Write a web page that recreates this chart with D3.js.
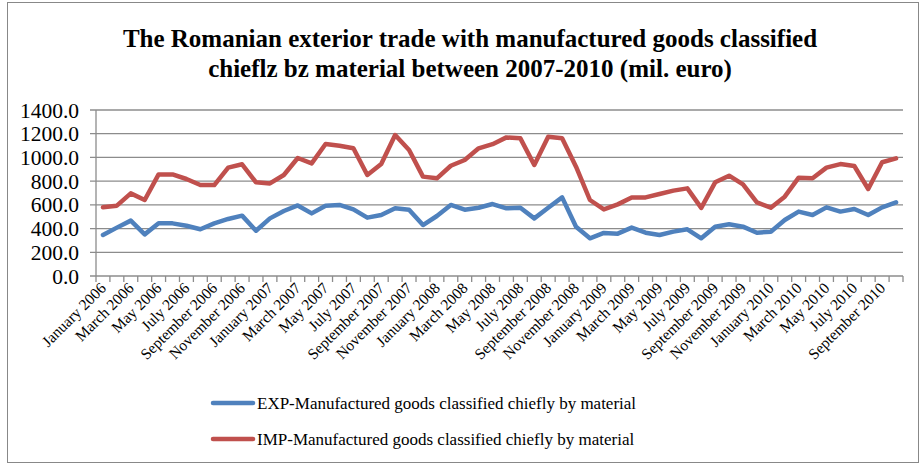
<!DOCTYPE html>
<html><head><meta charset="utf-8">
<script src="https://cdn.jsdelivr.net/npm/d3@7"></script>
<style>body{margin:0;background:#fff}svg{display:block}</style>
</head><body><svg id="c" width="923" height="465"></svg>
<script>
const monthNames = ["January","February","March","April","May","June","July","August","September","October","November","December"];
const years = [2006, 2007, 2008, 2009, 2010];
const months = [];
years.forEach(y => monthNames.forEach(m => { if (months.length < 58) months.push(m + " " + y); }));
const expValues = [346,408,467,351,444,444,424,394,444,481,509,382,486,548,595,528,593,599,562,492,514,571,559,430,506,599,559,576,607,571,576,486,576,663,416,318,363,357,408,365,346,374,394,318,416,436,416,365,374,472,543,514,579,543,565,514,579,621];
const impValues = [579,593,697,641,857,857,818,767,767,914,942,790,781,852,995,950,1113,1099,1077,852,944,1189,1063,838,824,930,978,1077,1112,1169,1161,936,1175,1161,922,641,562,604,663,663,692,720,739,575,790,846,773,621,576,669,829,824,914,944,928,734,959,992];
const yTicks = [0,200,400,600,800,1000,1200,1400];
const seriesNames = ["EXP-Manufactured goods classified chiefly by material","IMP-Manufactured goods classified chiefly by material"];
const colors = ["#4F81BD","#C0504D"];
const titleLines = ["The Romanian exterior trade with manufactured goods classified","chieflz bz material between 2007-2010 (mil. euro)"];

const svg = d3.select("#c");
const font = "'Liberation Serif','Times New Roman',serif";
svg.append("rect").attr("x",7.5).attr("y",2.5).attr("width",911).attr("height",460).attr("fill","#fff").attr("stroke","#888").attr("stroke-width",1);

const L=96, R=903, T=110, B=276;
const x = d3.scaleBand().domain(months).range([L,R]).padding(0);
const y = d3.scaleLinear().domain([0,1400]).range([B,T]);

// gridlines
svg.append("g").selectAll("line").data(yTicks).join("line")
  .attr("x1",L-6).attr("x2",R).attr("y1",d=>y(d)).attr("y2",d=>y(d))
  .attr("stroke","#8c8c8c").attr("stroke-width",1.3);
// y labels
svg.append("g").selectAll("text").data(yTicks).join("text")
  .attr("x",79).attr("y",d=>y(d)).attr("dy","0.35em").attr("text-anchor","end")
  .attr("font-family",font).attr("font-size",21.5).attr("fill","#000")
  .text(d=>d.toFixed(1));
// y axis line
svg.append("line").attr("x1",L).attr("x2",L).attr("y1",T).attr("y2",B).attr("stroke","#8c8c8c").attr("stroke-width",1.3);
// x ticks at band boundaries
const bounds = months.map(m=>x(m)).concat([R]);
svg.append("g").selectAll("line").data(bounds).join("line")
  .attr("x1",d=>d).attr("x2",d=>d).attr("y1",B).attr("y2",B+6)
  .attr("stroke","#8c8c8c").attr("stroke-width",1.3);
// x labels
const bw = x.bandwidth();
svg.append("g").selectAll("text").data(months.filter((m,i)=>i%2===0)).join("text")
  .attr("transform",d=>`translate(${x(d)+bw/2+4},${B+13}) rotate(-45)`)
  .attr("text-anchor","end").attr("font-family",font).attr("font-size",15.5).attr("fill","#000")
  .text(d=>d);

// lines
const line = d3.line().x((d,i)=>x(months[i])+bw/2).y(d=>y(d));
[expValues, impValues].forEach((vals,k)=>{
  svg.append("path").datum(vals).attr("d",line).attr("fill","none")
    .attr("stroke",colors[k]).attr("stroke-width",4.5).attr("stroke-linejoin","round").attr("stroke-linecap","round");
});

// title
svg.append("g").selectAll("text").data(titleLines).join("text")
  .attr("x",470).attr("y",(d,i)=>47+i*30).attr("text-anchor","middle")
  .attr("font-family",font).attr("font-weight","bold").attr("font-size",25).attr("fill","#000")
  .text(d=>d);

// legend
const lg = svg.append("g");
seriesNames.forEach((s,k)=>{
  const yy = 403 + k*36;
  lg.append("line").attr("x1",213).attr("x2",253).attr("y1",yy).attr("y2",yy)
    .attr("stroke",colors[k]).attr("stroke-width",4.5).attr("stroke-linecap","round");
  lg.append("text").attr("x",257).attr("y",yy).attr("dy","0.35em")
    .attr("font-family",font).attr("font-size",17).attr("fill","#000").text(s);
});
</script></body></html>
